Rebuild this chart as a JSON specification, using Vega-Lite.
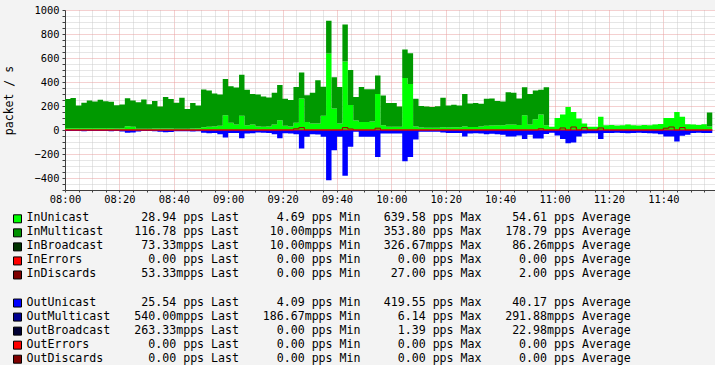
{
  "$schema": "https://vega.github.io/schema/vega-lite/v6.json",
  "background": "#F3F3F3",
  "padding": {"left": 3, "top": 5, "right": 0, "bottom": 0},
  "columns": 1,
  "align": "none",
  "spacing": 7,
  "config": {
    "view": {"stroke": null},
    "font": "DejaVu Sans Mono",
    "axis": {"labelFont": "DejaVu Sans Mono", "titleFont": "DejaVu Sans Mono", "labelColor": "#000000", "titleColor": "#000000"}
  },
  "concat": [
    {
      "width": 650,
      "height": 180,
      "view": {"fill": "#FFFFFF", "stroke": null},
      "data": {
        "values": [
          {"t":"2024-01-01T08:00","inU":14,"inM":244,"outU":-9,"inD":0,"inE":0},
          {"t":"2024-01-01T08:02","inU":14,"inM":252,"outU":-9,"inD":0,"inE":0},
          {"t":"2024-01-01T08:04","inU":14,"inM":191,"outU":-9,"inD":0,"inE":0},
          {"t":"2024-01-01T08:06","inU":14,"inM":214,"outU":-10,"inD":0,"inE":0},
          {"t":"2024-01-01T08:08","inU":14,"inM":232,"outU":-9,"inD":0,"inE":0},
          {"t":"2024-01-01T08:10","inU":14,"inM":224,"outU":-9,"inD":0,"inE":0},
          {"t":"2024-01-01T08:12","inU":14,"inM":238,"outU":-8,"inD":0,"inE":0},
          {"t":"2024-01-01T08:14","inU":14,"inM":226,"outU":-9,"inD":0,"inE":0},
          {"t":"2024-01-01T08:16","inU":14,"inM":222,"outU":-10,"inD":0,"inE":0},
          {"t":"2024-01-01T08:18","inU":12,"inM":195,"outU":-9,"inD":0,"inE":0},
          {"t":"2024-01-01T08:20","inU":14,"inM":198,"outU":-12,"inD":0,"inE":0},
          {"t":"2024-01-01T08:22","inU":32,"inM":233,"outU":-22,"inD":0,"inE":0},
          {"t":"2024-01-01T08:24","inU":28,"inM":218,"outU":-20,"inD":0,"inE":0},
          {"t":"2024-01-01T08:26","inU":10,"inM":222,"outU":-12,"inD":0,"inE":0},
          {"t":"2024-01-01T08:28","inU":10,"inM":245,"outU":-9,"inD":0,"inE":0},
          {"t":"2024-01-01T08:30","inU":10,"inM":205,"outU":-9,"inD":0,"inE":0},
          {"t":"2024-01-01T08:32","inU":12,"inM":230,"outU":-10,"inD":0,"inE":0},
          {"t":"2024-01-01T08:34","inU":12,"inM":183,"outU":-14,"inD":0,"inE":0},
          {"t":"2024-01-01T08:36","inU":12,"inM":263,"outU":-18,"inD":0,"inE":0},
          {"t":"2024-01-01T08:38","inU":12,"inM":246,"outU":-16,"inD":0,"inE":0},
          {"t":"2024-01-01T08:40","inU":10,"inM":218,"outU":-10,"inD":0,"inE":0},
          {"t":"2024-01-01T08:42","inU":10,"inM":258,"outU":-10,"inD":0,"inE":0},
          {"t":"2024-01-01T08:44","inU":10,"inM":165,"outU":-10,"inD":0,"inE":0},
          {"t":"2024-01-01T08:46","inU":12,"inM":213,"outU":-12,"inD":0,"inE":0},
          {"t":"2024-01-01T08:48","inU":15,"inM":190,"outU":-10,"inD":0,"inE":0},
          {"t":"2024-01-01T08:50","inU":22,"inM":316,"outU":-22,"inD":0,"inE":0},
          {"t":"2024-01-01T08:52","inU":28,"inM":302,"outU":-27,"inD":0,"inE":0},
          {"t":"2024-01-01T08:54","inU":30,"inM":275,"outU":-25,"inD":0,"inE":0},
          {"t":"2024-01-01T08:56","inU":35,"inM":260,"outU":-35,"inD":0,"inE":0},
          {"t":"2024-01-01T08:58","inU":123,"inM":302,"outU":-63,"inD":0,"inE":0},
          {"t":"2024-01-01T09:00","inU":60,"inM":305,"outU":-25,"inD":0,"inE":0},
          {"t":"2024-01-01T09:02","inU":45,"inM":310,"outU":-24,"inD":0,"inE":0},
          {"t":"2024-01-01T09:04","inU":118,"inM":342,"outU":-68,"inD":0,"inE":0},
          {"t":"2024-01-01T09:06","inU":40,"inM":295,"outU":-30,"inD":0,"inE":0},
          {"t":"2024-01-01T09:08","inU":45,"inM":255,"outU":-28,"inD":0,"inE":0},
          {"t":"2024-01-01T09:10","inU":30,"inM":265,"outU":-20,"inD":0,"inE":0},
          {"t":"2024-01-01T09:12","inU":28,"inM":252,"outU":-22,"inD":0,"inE":0},
          {"t":"2024-01-01T09:14","inU":30,"inM":240,"outU":-25,"inD":0,"inE":0},
          {"t":"2024-01-01T09:16","inU":45,"inM":265,"outU":-35,"inD":0,"inE":0},
          {"t":"2024-01-01T09:18","inU":82,"inM":293,"outU":-68,"inD":0,"inE":0},
          {"t":"2024-01-01T09:20","inU":35,"inM":225,"outU":-28,"inD":0,"inE":0},
          {"t":"2024-01-01T09:22","inU":30,"inM":220,"outU":-29,"inD":0,"inE":0},
          {"t":"2024-01-01T09:24","inU":60,"inM":298,"outU":-35,"inD":10,"inE":0},
          {"t":"2024-01-01T09:26","inU":262,"inM":218,"outU":-154,"inD":20,"inE":0},
          {"t":"2024-01-01T09:28","inU":67,"inM":223,"outU":-57,"inD":0,"inE":0},
          {"t":"2024-01-01T09:30","inU":54,"inM":256,"outU":-35,"inD":0,"inE":0},
          {"t":"2024-01-01T09:32","inU":54,"inM":361,"outU":-38,"inD":0,"inE":0},
          {"t":"2024-01-01T09:34","inU":118,"inM":242,"outU":-57,"inD":0,"inE":0},
          {"t":"2024-01-01T09:36","inU":637,"inM":273,"outU":-418,"inD":0,"inE":0},
          {"t":"2024-01-01T09:38","inU":180,"inM":260,"outU":-168,"inD":0,"inE":0},
          {"t":"2024-01-01T09:40","inU":54,"inM":304,"outU":-57,"inD":0,"inE":0},
          {"t":"2024-01-01T09:42","inU":570,"inM":309,"outU":-382,"inD":20,"inE":0},
          {"t":"2024-01-01T09:44","inU":208,"inM":292,"outU":-140,"inD":8,"inE":0},
          {"t":"2024-01-01T09:46","inU":80,"inM":195,"outU":-15,"inD":0,"inE":0},
          {"t":"2024-01-01T09:48","inU":67,"inM":291,"outU":-57,"inD":0,"inE":0},
          {"t":"2024-01-01T09:50","inU":67,"inM":273,"outU":-57,"inD":0,"inE":0},
          {"t":"2024-01-01T09:52","inU":70,"inM":270,"outU":-57,"inD":0,"inE":0},
          {"t":"2024-01-01T09:54","inU":300,"inM":155,"outU":-224,"inD":15,"inE":0},
          {"t":"2024-01-01T09:56","inU":40,"inM":248,"outU":-29,"inD":0,"inE":0},
          {"t":"2024-01-01T09:58","inU":27,"inM":198,"outU":-29,"inD":0,"inE":0},
          {"t":"2024-01-01T10:00","inU":27,"inM":198,"outU":-29,"inD":0,"inE":0},
          {"t":"2024-01-01T10:02","inU":27,"inM":168,"outU":-29,"inD":0,"inE":0},
          {"t":"2024-01-01T10:04","inU":433,"inM":238,"outU":-260,"inD":0,"inE":0},
          {"t":"2024-01-01T10:06","inU":384,"inM":256,"outU":-224,"inD":0,"inE":0},
          {"t":"2024-01-01T10:08","inU":30,"inM":230,"outU":-80,"inD":0,"inE":0},
          {"t":"2024-01-01T10:10","inU":20,"inM":180,"outU":-14,"inD":0,"inE":0},
          {"t":"2024-01-01T10:12","inU":18,"inM":177,"outU":-14,"inD":0,"inE":0},
          {"t":"2024-01-01T10:14","inU":18,"inM":174,"outU":-14,"inD":0,"inE":0},
          {"t":"2024-01-01T10:16","inU":18,"inM":180,"outU":-14,"inD":0,"inE":0},
          {"t":"2024-01-01T10:18","inU":22,"inM":246,"outU":-20,"inD":0,"inE":0},
          {"t":"2024-01-01T10:20","inU":20,"inM":185,"outU":-25,"inD":0,"inE":0},
          {"t":"2024-01-01T10:22","inU":22,"inM":188,"outU":-25,"inD":0,"inE":0},
          {"t":"2024-01-01T10:24","inU":22,"inM":183,"outU":-25,"inD":0,"inE":0},
          {"t":"2024-01-01T10:26","inU":30,"inM":270,"outU":-55,"inD":0,"inE":0},
          {"t":"2024-01-01T10:28","inU":25,"inM":195,"outU":-30,"inD":0,"inE":0},
          {"t":"2024-01-01T10:30","inU":25,"inM":200,"outU":-28,"inD":0,"inE":0},
          {"t":"2024-01-01T10:32","inU":30,"inM":188,"outU":-30,"inD":0,"inE":0},
          {"t":"2024-01-01T10:34","inU":35,"inM":225,"outU":-35,"inD":0,"inE":0},
          {"t":"2024-01-01T10:36","inU":38,"inM":224,"outU":-32,"inD":0,"inE":0},
          {"t":"2024-01-01T10:38","inU":40,"inM":202,"outU":-35,"inD":0,"inE":0},
          {"t":"2024-01-01T10:40","inU":40,"inM":198,"outU":-40,"inD":0,"inE":0},
          {"t":"2024-01-01T10:42","inU":45,"inM":270,"outU":-55,"inD":0,"inE":0},
          {"t":"2024-01-01T10:44","inU":45,"inM":265,"outU":-55,"inD":0,"inE":0},
          {"t":"2024-01-01T10:46","inU":42,"inM":220,"outU":-45,"inD":0,"inE":0},
          {"t":"2024-01-01T10:48","inU":123,"inM":233,"outU":-74,"inD":0,"inE":0},
          {"t":"2024-01-01T10:50","inU":45,"inM":255,"outU":-40,"inD":0,"inE":0},
          {"t":"2024-01-01T10:52","inU":90,"inM":240,"outU":-70,"inD":0,"inE":0},
          {"t":"2024-01-01T10:54","inU":129,"inM":206,"outU":-70,"inD":10,"inE":0},
          {"t":"2024-01-01T10:56","inU":40,"inM":316,"outU":-33,"inD":0,"inE":0},
          {"t":"2024-01-01T10:58","inU":27,"inM":0,"outU":-22,"inD":0,"inE":0},
          {"t":"2024-01-01T11:00","inU":100,"inM":0,"outU":-45,"inD":0,"inE":0},
          {"t":"2024-01-01T11:02","inU":130,"inM":0,"outU":-75,"inD":17,"inE":0},
          {"t":"2024-01-01T11:04","inU":192,"inM":0,"outU":-110,"inD":0,"inE":0},
          {"t":"2024-01-01T11:06","inU":150,"inM":0,"outU":-105,"inD":25,"inE":0},
          {"t":"2024-01-01T11:08","inU":96,"inM":0,"outU":-55,"inD":0,"inE":0},
          {"t":"2024-01-01T11:10","inU":55,"inM":0,"outU":-30,"inD":20,"inE":0},
          {"t":"2024-01-01T11:12","inU":27,"inM":0,"outU":-27,"inD":0,"inE":0},
          {"t":"2024-01-01T11:14","inU":27,"inM":0,"outU":-27,"inD":0,"inE":0},
          {"t":"2024-01-01T11:16","inU":110,"inM":0,"outU":-74,"inD":17,"inE":0},
          {"t":"2024-01-01T11:18","inU":40,"inM":0,"outU":-25,"inD":0,"inE":0},
          {"t":"2024-01-01T11:20","inU":42,"inM":0,"outU":-25,"inD":0,"inE":0},
          {"t":"2024-01-01T11:22","inU":38,"inM":0,"outU":-22,"inD":0,"inE":0},
          {"t":"2024-01-01T11:24","inU":40,"inM":0,"outU":-25,"inD":0,"inE":0},
          {"t":"2024-01-01T11:26","inU":45,"inM":0,"outU":-28,"inD":0,"inE":0},
          {"t":"2024-01-01T11:28","inU":40,"inM":0,"outU":-25,"inD":0,"inE":0},
          {"t":"2024-01-01T11:30","inU":38,"inM":0,"outU":-22,"inD":0,"inE":0},
          {"t":"2024-01-01T11:32","inU":42,"inM":0,"outU":-25,"inD":0,"inE":0},
          {"t":"2024-01-01T11:34","inU":40,"inM":0,"outU":-27,"inD":0,"inE":0},
          {"t":"2024-01-01T11:36","inU":45,"inM":0,"outU":-30,"inD":0,"inE":0},
          {"t":"2024-01-01T11:38","inU":50,"inM":0,"outU":-35,"inD":0,"inE":0},
          {"t":"2024-01-01T11:40","inU":100,"inM":0,"outU":-55,"inD":15,"inE":0},
          {"t":"2024-01-01T11:42","inU":100,"inM":0,"outU":-55,"inD":25,"inE":0},
          {"t":"2024-01-01T11:44","inU":150,"inM":0,"outU":-96,"inD":0,"inE":0},
          {"t":"2024-01-01T11:46","inU":110,"inM":0,"outU":-47,"inD":20,"inE":0},
          {"t":"2024-01-01T11:48","inU":47,"inM":0,"outU":-40,"inD":0,"inE":0},
          {"t":"2024-01-01T11:50","inU":45,"inM":0,"outU":-25,"inD":0,"inE":0},
          {"t":"2024-01-01T11:52","inU":42,"inM":0,"outU":-22,"inD":0,"inE":0},
          {"t":"2024-01-01T11:54","inU":48,"inM":0,"outU":-24,"inD":0,"inE":0},
          {"t":"2024-01-01T11:56","inU":29,"inM":117,"outU":-25,"inD":0,"inE":0},
          {"t":"2024-01-01T11:58","inU":29,"inM":117,"outU":-25,"inD":0,"inE":0}
        ]
      },
      "encoding": {
        "x": {
          "field": "t", "type": "temporal",
          "scale": {"domain": [{"year": 2024, "month": 1, "date": 1, "hours": 8, "minutes": 0}, {"year": 2024, "month": 1, "date": 1, "hours": 11, "minutes": 59}], "nice": false},
          "axis": {
            "title": null,
            "tickCount": 48,
            "labelExpr": "minutes(datum.value) % 20 === 0 ? timeFormat(datum.value, '%H:%M') : ''",
            "labelOverlap": false, "labelFlush": false, "labelAlign": "center",
            "labelFontSize": 10.4, "labelPadding": 2,
            "tickSize": 2, "tickColor": "#404040",
            "domainColor": "#404040",
            "grid": true,
            "gridColor": {"condition": {"test": "minutes(datum.value) % 20 === 0", "value": "#E8A0A0"}, "value": "#CCCCCC"},
            "gridDash": [1, 1], "gridOpacity": 1
          }
        },
        "y": {
          "field": "y1", "type": "quantitative",
          "scale": {"domain": [-500, 1000], "nice": false},
          "axis": {
            "title": "packet / s",
            "values": [-500,-450,-400,-350,-300,-250,-200,-150,-100,-50,0,50,100,150,200,250,300,350,400,450,500,550,600,650,700,750,800,850,900,950,1000],
            "format": "d",
            "labelExpr": "datum.value % 200 === 0 ? datum.label : ''",
            "labelOverlap": false, "labelFontSize": 10.4, "labelPadding": 3,
            "tickSize": 3, "tickColor": "#404040", "domainColor": "#404040",
            "titleFontSize": 11.5, "titleFontWeight": "normal", "titlePadding": 19,
            "grid": true,
            "gridColor": {"condition": {"test": "datum.value % 200 === 0", "value": "#E8A0A0"}, "value": "#CCCCCC"},
            "gridDash": [1, 1], "gridOpacity": 1
          }
        }
      },
      "layer": [
        {
          "transform": [
            {"fold": ["inU", "inM"], "as": ["key", "value"]},
            {"stack": "value", "groupby": ["t"], "sort": [{"field": "key", "order": "descending"}], "as": ["y0", "y1"]}
          ],
          "mark": {"type": "area", "interpolate": "step-after"},
          "encoding": {
            "y2": {"field": "y0"},
            "color": {"field": "key", "type": "nominal", "scale": {"domain": ["inU", "inM"], "range": ["#00FF00", "#009900"]}, "legend": null}
          }
        },
        {
          "transform": [
            {"fold": ["outU"], "as": ["key", "value"]},
            {"stack": "value", "groupby": ["t"], "sort": [{"field": "key", "order": "descending"}], "as": ["y0", "y1"]}
          ],
          "mark": {"type": "area", "interpolate": "step-after", "color": "#0000FF"},
          "encoding": {
            "y2": {"field": "y0"}
          }
        },
        {
          "transform": [
            {"fold": ["inD"], "as": ["key", "value"]},
            {"stack": "value", "groupby": ["t"], "sort": [{"field": "key", "order": "descending"}], "as": ["y0", "y1"]}
          ],
          "mark": {"type": "line", "interpolate": "step-after", "color": "#A00000", "strokeWidth": 1},
          "encoding": {}
        },
        {
          "transform": [
            {"fold": ["inE"], "as": ["key", "value"]},
            {"stack": "value", "groupby": ["t"], "sort": [{"field": "key", "order": "descending"}], "as": ["y0", "y1"]}
          ],
          "mark": {"type": "line", "color": "#FF0000", "strokeWidth": 1},
          "encoding": {}
        }
      ]
    },
    {
      "width": 27,
      "height": 146,
      "data": {
        "values": [
          {"name": "InUnicast", "last": "28.94 pps", "min": "4.69 pps", "max": "639.58 pps", "avg": "54.61 pps"},
          {"name": "InMulticast", "last": "116.78 pps", "min": "10.00mpps", "max": "353.80 pps", "avg": "178.79 pps"},
          {"name": "InBroadcast", "last": "73.33mpps", "min": "10.00mpps", "max": "326.67mpps", "avg": "86.26mpps"},
          {"name": "InErrors", "last": "0.00 pps", "min": "0.00 pps", "max": "0.00 pps", "avg": "0.00 pps"},
          {"name": "InDiscards", "last": "53.33mpps", "min": "0.00 pps", "max": "27.00 pps", "avg": "2.00 pps"},
          {"name": "OutUnicast", "last": "25.54 pps", "min": "4.09 pps", "max": "419.55 pps", "avg": "40.17 pps"},
          {"name": "OutMulticast", "last": "540.00mpps", "min": "186.67mpps", "max": "6.14 pps", "avg": "291.88mpps"},
          {"name": "OutBroadcast", "last": "263.33mpps", "min": "0.00 pps", "max": "1.39 pps", "avg": "22.98mpps"},
          {"name": "OutErrors", "last": "0.00 pps", "min": "0.00 pps", "max": "0.00 pps", "avg": "0.00 pps"},
          {"name": "OutDiscards", "last": "0.00 pps", "min": "0.00 pps", "max": "0.00 pps", "avg": "0.00 pps"}
        ]
      },
      "transform": [
        {"calculate": "datum.last + ' Last'", "as": "lastT"},
        {"calculate": "datum.min + ' Min'", "as": "minT"},
        {"calculate": "datum.max + ' Max'", "as": "maxT"},
        {"calculate": "datum.avg + ' Average'", "as": "avgT"}
      ],
      "encoding": {
        "y": {
          "field": "name", "type": "nominal", "axis": null,
          "scale": {"type": "point", "domain": ["InUnicast", "InMulticast", "InBroadcast", "InErrors", "InDiscards", "sep", "OutUnicast", "OutMulticast", "OutBroadcast", "OutErrors", "OutDiscards"], "padding": 0.2}
        }
      },
      "layer": [
        {
          "mark": {"type": "square", "size": 64, "filled": true, "opacity": 1, "stroke": "#000000", "strokeWidth": 1, "xOffset": -61},
          "encoding": {
            "fill": {
              "field": "name", "type": "nominal", "legend": null,
              "scale": {"domain": ["InUnicast", "InMulticast", "InBroadcast", "InErrors", "InDiscards", "OutUnicast", "OutMulticast", "OutBroadcast", "OutErrors", "OutDiscards"],
                        "range": ["#00FF00", "#009000", "#003300", "#FF0000", "#7F0000", "#0000FF", "#000090", "#000033", "#FF0000", "#7F0000"]}
            }
          }
        },
        {
          "mark": {"type": "text", "align": "left", "baseline": "alphabetic", "dx": -52, "dy": 2.5, "font": "DejaVu Sans Mono", "fontSize": 11.6, "color": "#000000"},
          "encoding": {"text": {"field": "name", "type": "nominal"}}
        },
        {
          "mark": {"type": "text", "align": "right", "baseline": "alphabetic", "dx": 160.5, "dy": 2.5, "font": "DejaVu Sans Mono", "fontSize": 11.6, "color": "#000000"},
          "encoding": {"text": {"field": "lastT", "type": "nominal"}}
        },
        {
          "mark": {"type": "text", "align": "right", "baseline": "alphabetic", "dx": 282, "dy": 2.5, "font": "DejaVu Sans Mono", "fontSize": 11.6, "color": "#000000"},
          "encoding": {"text": {"field": "minT", "type": "nominal"}}
        },
        {
          "mark": {"type": "text", "align": "right", "baseline": "alphabetic", "dx": 403, "dy": 2.5, "font": "DejaVu Sans Mono", "fontSize": 11.6, "color": "#000000"},
          "encoding": {"text": {"field": "maxT", "type": "nominal"}}
        },
        {
          "mark": {"type": "text", "align": "right", "baseline": "alphabetic", "dx": 552.3, "dy": 2.5, "font": "DejaVu Sans Mono", "fontSize": 11.6, "color": "#000000"},
          "encoding": {"text": {"field": "avgT", "type": "nominal"}}
        }
      ]
    }
  ]
}
